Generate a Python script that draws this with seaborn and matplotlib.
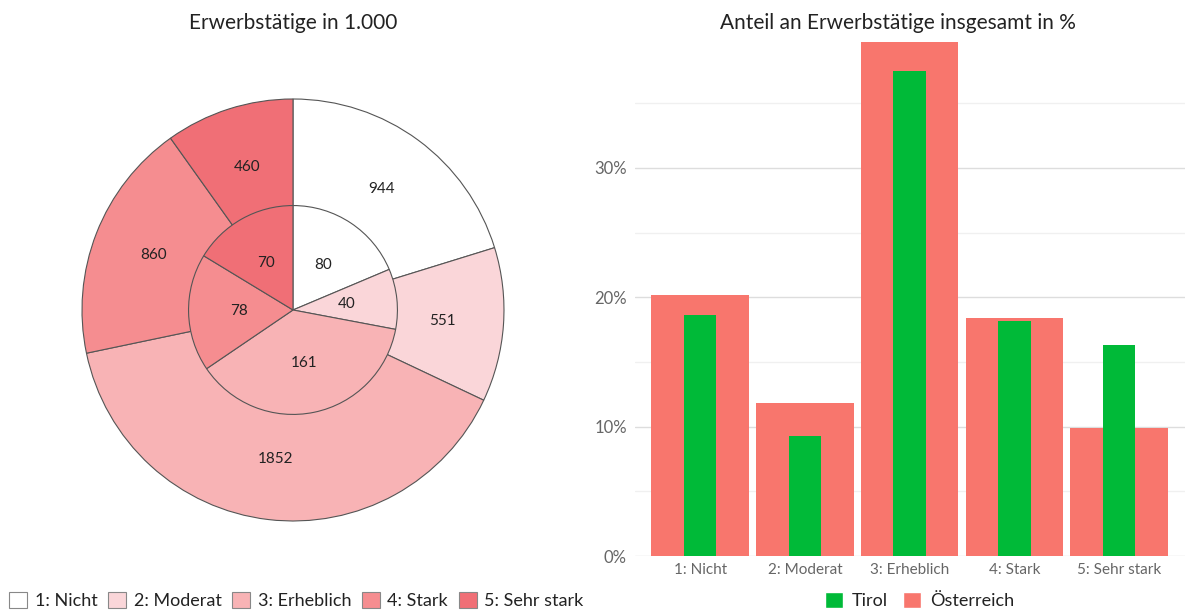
import numpy as np
import pandas as pd
import matplotlib.pyplot as plt
import seaborn as sns
from matplotlib.patches import Patch
from matplotlib.ticker import MultipleLocator, PercentFormatter

# Daten
kategorien = ["1: Nicht", "2: Moderat", "3: Erheblich", "4: Stark", "5: Sehr stark"]
oesterreich_1000 = [944, 551, 1852, 860, 460]
tirol_1000 = [80, 40, 161, 78, 70]
oesterreich_pct = [20.2, 11.8, 39.7, 18.4, 9.9]
tirol_pct = [18.6, 9.3, 37.5, 18.2, 16.3]

farben_pie = ["#ffffff", "#fad6d9", "#f8b3b5", "#f58d90", "#f06f76"]
farbe_at = "#f8766d"
farbe_tirol = "#00ba38"

sns.set_style("white")
plt.rcParams["font.family"] = ["Lato", "DejaVu Sans"]

fig = plt.figure(figsize=(11.85, 6.11), dpi=100)

# Kreisdiagramm (aussen Österreich, innen Tirol)
ax1 = fig.add_axes([0.0692, 0.1473, 0.3561, 0.6907])
rand = dict(edgecolor="#555555", linewidth=0.8)


def label_von(werte):
    it = iter(werte)
    return lambda p: str(next(it))


ax1.pie(oesterreich_1000, radius=1.0, colors=farben_pie, startangle=90,
        counterclock=False, wedgeprops=rand, autopct=label_von(oesterreich_1000),
        pctdistance=0.71, textprops=dict(fontsize=11, color="#222222"))
ax1.pie(tirol_1000, radius=0.495, colors=farben_pie, startangle=90,
        counterclock=False, wedgeprops=rand, autopct=label_von(tirol_1000),
        pctdistance=0.52, textprops=dict(fontsize=11, color="#222222"))
ax1.set_xlim(-1.0, 1.0)
ax1.set_ylim(-1.0, 1.0)
ax1.set_aspect("equal")
fig.text(0.247, 0.962, "Erwerbstätige in 1.000", ha="center", va="center",
         fontsize=15, color="#222222")

handles = [Patch(facecolor=c, edgecolor="#888888", linewidth=0.8) for c in farben_pie]
fig.legend(handles, kategorien, loc="center", bbox_to_anchor=(0.25, 0.017),
           ncol=5, frameon=False, fontsize=13, handlelength=1.0, handleheight=1.0,
           handletextpad=0.4, columnspacing=0.6, labelcolor="#222222")

# Balkendiagramm
ax2 = fig.add_axes([0.536, 0.09, 0.464, 0.845])
df = pd.DataFrame({"kategorie": kategorien, "at": oesterreich_pct, "tirol": tirol_pct})
sns.barplot(data=df, x="kategorie", y="at", color=farbe_at, width=0.93,
            saturation=1, linewidth=0, ax=ax2, zorder=2)
sns.barplot(data=df, x="kategorie", y="tirol", color=farbe_tirol, width=0.31,
            saturation=1, linewidth=0, ax=ax2, zorder=3)
ax2.set_xlim(-0.62, 4.63)
ax2.set_ylim(0, 39.9)
ax2.yaxis.set_major_locator(MultipleLocator(10))
ax2.yaxis.set_minor_locator(MultipleLocator(5))
ax2.yaxis.set_major_formatter(PercentFormatter(decimals=0))
ax2.grid(axis="y", which="major", color="#dddddd", linewidth=1.0, zorder=0)
ax2.grid(axis="y", which="minor", color="#f0f0f0", linewidth=1.0, zorder=0)
ax2.set_axisbelow(True)
sns.despine(ax=ax2, left=True, bottom=True)
ax2.set_xlabel("")
ax2.set_ylabel("")
ax2.tick_params(axis="both", which="both", length=0, colors="#666666")
ax2.tick_params(axis="x", labelsize=11, pad=5)
ax2.tick_params(axis="y", labelsize=12, pad=6)
fig.text(0.758, 0.962, "Anteil an Erwerbstätige insgesamt in %", ha="center",
         va="center", fontsize=15, color="#222222")

handles2 = [Patch(facecolor=farbe_tirol), Patch(facecolor=farbe_at)]
fig.legend(handles2, ["Tirol", "Österreich"], loc="center",
           bbox_to_anchor=(0.776, 0.017), ncol=2, frameon=False, fontsize=13,
           handlelength=1.0, handleheight=1.0, handletextpad=0.5,
           columnspacing=0.8, labelcolor="#222222")

fig.savefig("out.png", dpi=100)
